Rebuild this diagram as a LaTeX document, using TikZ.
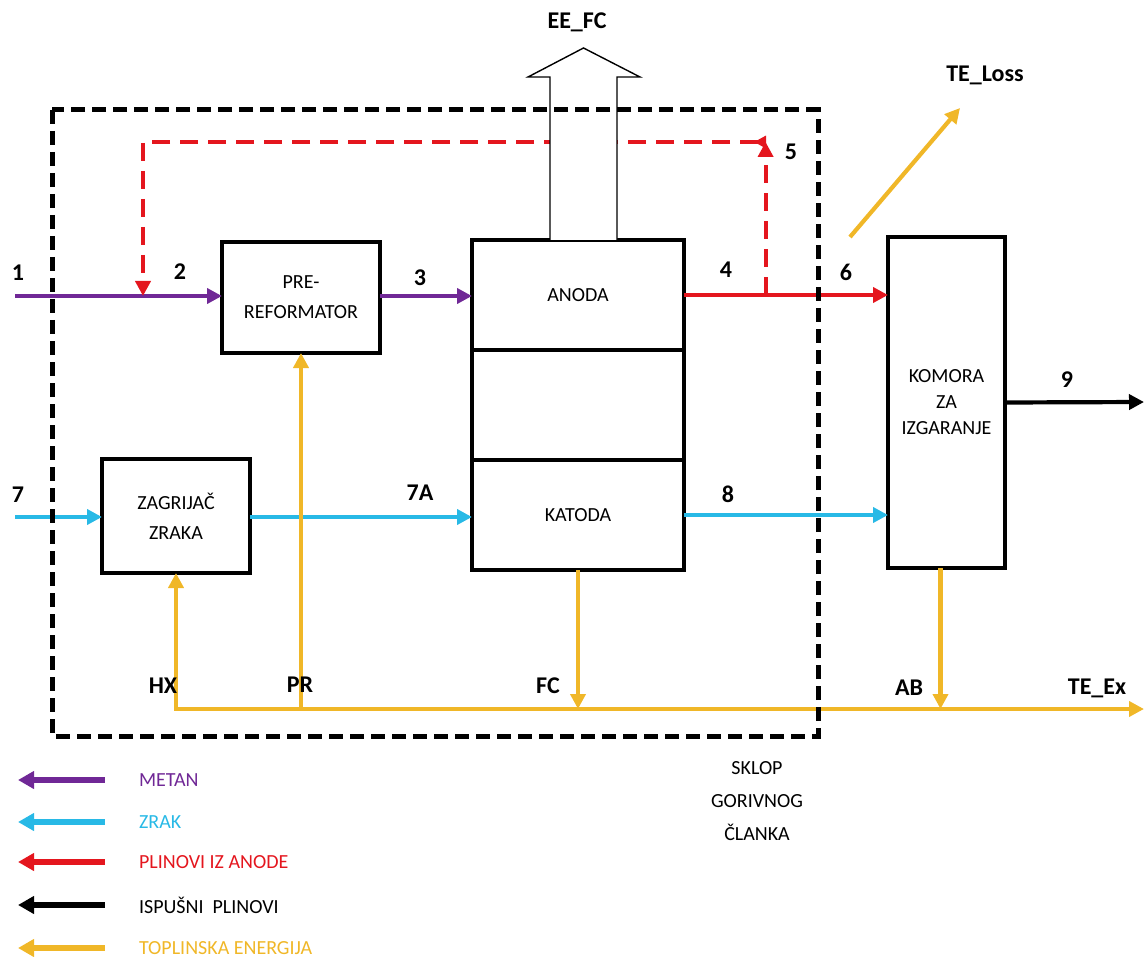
\documentclass[tikz,border=0pt]{standalone}
\usepackage{fontspec}
\setmainfont{Carlito}
\usetikzlibrary{positioning, arrows.meta, calc}
\definecolor{metanc}{RGB}{112,40,150}
\definecolor{zrakc}{RGB}{40,185,230}
\definecolor{anodec}{RGB}{228,22,30}
\definecolor{toplc}{RGB}{240,183,40}
\tikzset{
  blok/.style={draw, line width=2.3pt, outer sep=0pt, align=center, font=\fontsize{10}{15}\selectfont},
  oznaka/.style={font=\fontsize{12}{14}\selectfont\bfseries},
  tok/.style={line width=2.1pt, -{Triangle[length=7.5pt,width=7.5pt]}},
  metan/.style={tok, metanc},
  zrak/.style={tok, zrakc},
  anplin/.style={tok, anodec},
  ispuh/.style={tok, black},
  toplina/.style={tok, toplc},
  legenda/.style={line width=2.8pt, {Triangle[length=8pt,width=8.5pt]}-},
  legtekst/.style={anchor=west, font=\fontsize{10}{12}\selectfont}
}
\begin{document}
\begin{tikzpicture}[x=0.5pt, y=-0.5pt]
  \useasboundingbox (0,0) rectangle (1146,957);
  \node[blok, minimum width=79pt, minimum height=55.5pt] (prefor) at (301,297.5) {PRE-\\REFORMATOR};
  \node[blok, minimum width=106pt, minimum height=55pt] (anoda) at (578,295) {ANODA};
  \node[blok, minimum width=106pt, minimum height=55pt, below=0pt of anoda] (sredina) {};
  \node[blok, minimum width=106pt, minimum height=55pt, below=0pt of sredina] (katoda) {KATODA};
  \node[blok, minimum width=58.5pt, minimum height=165.5pt, font=\fontsize{10}{13}\selectfont] (komora) at (946.5,402.5) {KOMORA\\ZA\\IZGARANJE};
  \node[blok, minimum width=74pt, minimum height=57pt] (zagr) at (176,516) {ZAGRIJAČ\\ZRAKA};
  \coordinate (ul1) at (15,296);
  \coordinate (ul7) at (15,517);
  \coordinate (izl9) at (1144,402);
  \coordinate (teex) at (1144,709);
  \coordinate (mijes) at (143,296);
  \coordinate (povrat) at (766,142);
  \coordinate (povratL) at (143,142);
  \coordinate (gubitak0) at (850,237);
  \coordinate (gubitak) at (960,108);
  \coordinate (rasp) at ($(anoda.east)!0.4!(komora.west |- anoda.east)$);
  \coordinate (kab) at ($(komora.south)+(-6,0)$);
  \draw[metan] (ul1) -- (prefor.west |- ul1);
  \draw[metan] (prefor.east |- ul1) -- (anoda.west |- ul1);
  \draw[anplin] (anoda.east) -- (komora.west |- anoda.east);
  \draw[anplin, dashed, dash pattern=on 9pt off 5pt] (rasp) -- (rasp |- povrat);
  \draw[anplin, dashed, dash pattern=on 9pt off 5pt, {Triangle[reversed,length=6pt,width=6pt]}-{Triangle[length=7.5pt,width=7.5pt]}] (povrat) -- (povratL) -- (mijes);
  \draw[zrak] (ul7) -- (zagr.west |- ul7);
  \draw[zrak] (zagr.east |- ul7) -- (katoda.west |- ul7);
  \draw[zrak] (katoda.east) -- (komora.west |- katoda.east);
  \draw[ispuh] (komora.east) -- (izl9);
  \draw[toplina, {Triangle[length=7.5pt,width=7.5pt]}-{Triangle[length=7.5pt,width=7.5pt]}] (zagr.south) |- (teex);
  \draw[toplina] (prefor.south |- teex) -- (prefor.south);
  \draw[toplina] (katoda.south) -- (katoda.south |- teex);
  \draw[toplina] (kab) -- (kab |- teex);
  \draw[toplina] (gubitak0) -- (gubitak);
  \draw[fill=white, line width=0.7pt] (550,240) -- (550,77) -- (528,77) -- (583.5,48) -- (640,77) -- (617,77) -- (617,240);
  \draw[line width=2.5pt, dash pattern=on 7pt off 3.5pt] (52,110) rectangle (818,736);
  \node[oznaka] at (18,273) {1};
  \node[oznaka] at (180,272) {2};
  \node[oznaka] at (420,278) {3};
  \node[oznaka] at (726,270) {4};
  \node[oznaka] at (791,152) {5};
  \node[oznaka] at (846,272) {6};
  \node[oznaka] at (18,495) {7};
  \node[oznaka] at (420,493) {7A};
  \node[oznaka] at (728,494) {8};
  \node[oznaka] at (1067,380) {9};
  \node[oznaka] at (577,22) {EE\_FC};
  \node[oznaka] at (985,75) {TE\_Loss};
  \node[oznaka] at (163,686) {HX};
  \node[oznaka] at (300,685) {PR};
  \node[oznaka] at (548,686) {FC};
  \node[oznaka] at (909,688) {AB};
  \node[oznaka] at (1097,688) {TE\_Ex};
  \node[align=center, font=\fontsize{10}{16.5}\selectfont] (sklop) at (757,801) {SKLOP\\GORIVNOG\\ČLANKA};
  \foreach \y/\boja/\tekst in {780/metanc/METAN, 822/zrakc/ZRAK, 862/anodec/PLINOVI IZ ANODE, 905/black/ISPUŠNI\ \ PLINOVI, 948/toplc/TOPLINSKA ENERGIJA}{
    \draw[legenda, \boja] (18,\y) -- (105,\y);
    \node[legtekst, text=\boja] at (132,\y) {\tekst};
  }
\end{tikzpicture}
\end{document}
